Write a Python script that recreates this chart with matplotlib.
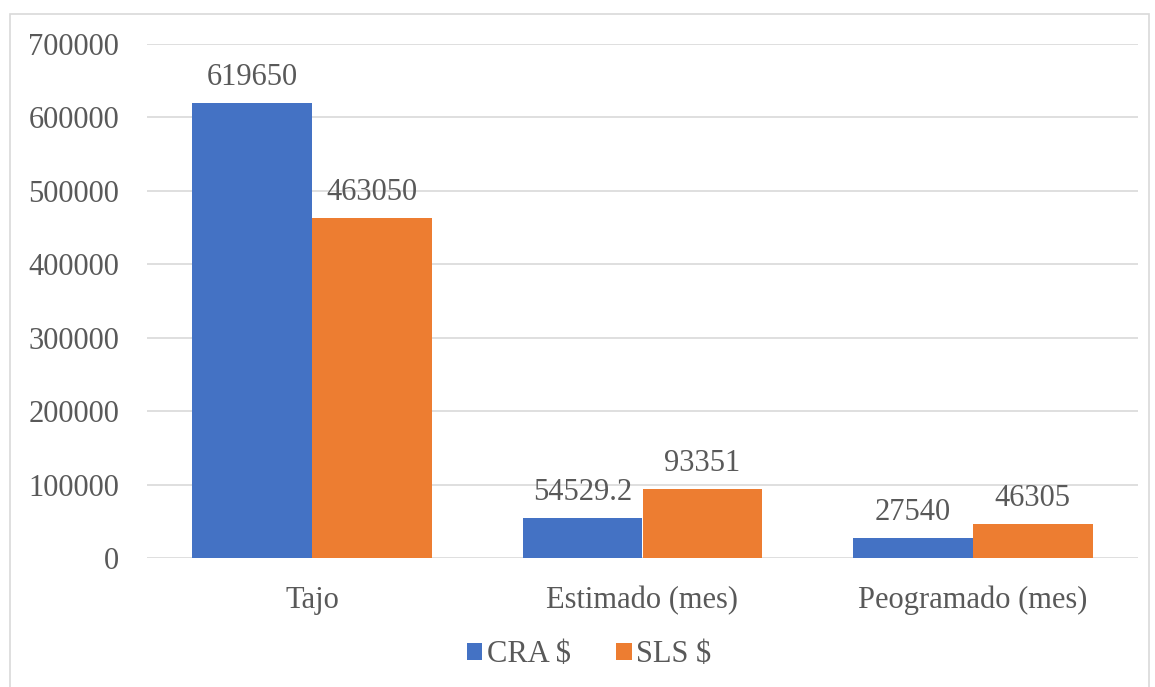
import numpy as np
import matplotlib.pyplot as plt
from matplotlib.patches import Rectangle

# Data
categorias = ['Tajo', 'Estimado (mes)', 'Peogramado (mes)']
cra = [619650, 54529.2, 27540]
sls = [463050, 93351, 46305]
etiquetas_cra = ['619650', '54529.2', '27540']
etiquetas_sls = ['463050', '93351', '46305']

plt.rcParams['font.family'] = ['Liberation Serif', 'DejaVu Serif']
texto = '#595959'
azul = '#4472C4'
naranja = '#ED7D31'
fs = 22

fig = plt.figure(figsize=(11.55, 6.87), dpi=100)
ax = fig.add_axes([147 / 1155, 1 - 558 / 687, (1138 - 147) / 1155, (558 - 44) / 687])

# Chart border
fig.patches.append(Rectangle((10 / 1155, -0.01), 1139 / 1155, 1 - 14 / 687 + 0.01,
                             transform=fig.transFigure, fill=False,
                             edgecolor='#d9d9d9', linewidth=1.2))

x = np.arange(len(categorias))
w = 0.363
b1 = ax.bar(x - w / 2, cra, w, color=azul, label='CRA $', zorder=3)
b2 = ax.bar(x + w / 2, sls, w, color=naranja, label='SLS $', zorder=3)

for barras, etiquetas in ((b1, etiquetas_cra), (b2, etiquetas_sls)):
    for b, t in zip(barras, etiquetas):
        ax.annotate(t, (b.get_x() + b.get_width() / 2, b.get_height()),
                    xytext=(0, 8), textcoords='offset points',
                    ha='center', va='bottom', fontsize=fs, color=texto)

ax.set_xlim(-0.5, 2.5)
ax.set_ylim(0, 700000)
ax.set_yticks(np.arange(0, 700001, 100000))
ax.set_yticklabels([str(v) for v in range(0, 700001, 100000)])
ax.set_xticks(x)
ax.set_xticklabels(categorias)
ax.tick_params(axis='both', length=0, labelsize=fs, colors=texto)
ax.tick_params(axis='y', pad=20)
ax.tick_params(axis='x', pad=20)
ax.grid(axis='y', color='#d9d9d9', linewidth=1.2, zorder=0)
for s in ax.spines.values():
    s.set_visible(False)

leg = fig.legend(loc='center', bbox_to_anchor=(0.51, 1 - 655 / 687), ncol=2,
                 frameon=False, fontsize=fs, handlelength=0.5, handleheight=0.5,
                 handletextpad=0.15, columnspacing=1.5)
for t in leg.get_texts():
    t.set_color(texto)

fig.savefig('out.png', dpi=100)
